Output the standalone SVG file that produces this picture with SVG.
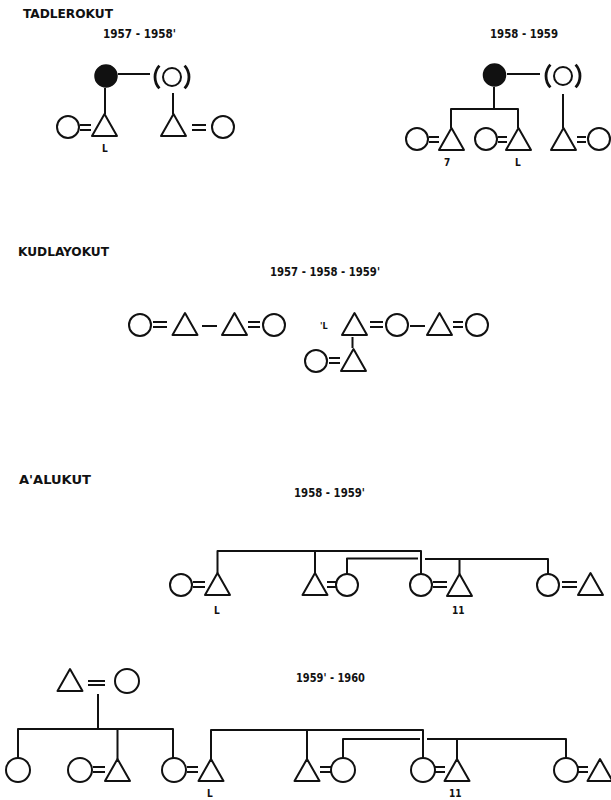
<svg xmlns="http://www.w3.org/2000/svg" xmlns:xlink="http://www.w3.org/1999/xlink" width="611" height="800" viewBox="0 0 611 800">
<style>
  .s{fill:none;stroke:#111;stroke-width:2;stroke-linejoin:round}
  .f{fill:#111;stroke:#111;stroke-width:1.5}
  .p{fill:none;stroke:#111;stroke-width:2.8}
  .t{font-family:"DejaVu Sans Condensed","DejaVu Sans","Liberation Sans",sans-serif;font-weight:bold;fill:#111}
  .h{font-size:12px}
  .y{font-size:11.5px}
  .l{font-size:10px}
</style>
<defs>
  <path id="tri" d="M0,0 L12.5,22 L-12.5,22 Z"/>
  <circle id="cir" r="11"/>
</defs>
<rect width="611" height="800" fill="#fff"/>

<g id="titles" class="t">
  <text class="h" x="23" y="18" textLength="90" lengthAdjust="spacingAndGlyphs">TADLEROKUT</text>
  <text class="y" x="103" y="38" textLength="73" lengthAdjust="spacingAndGlyphs">1957 - 1958'</text>
  <text class="y" x="490" y="38" textLength="68" lengthAdjust="spacingAndGlyphs">1958 - 1959</text>
  <text class="h" x="18" y="256" textLength="91" lengthAdjust="spacingAndGlyphs">KUDLAYOKUT</text>
  <text class="y" x="270" y="276" textLength="110" lengthAdjust="spacingAndGlyphs">1957 - 1958 - 1959'</text>
  <text class="h" x="19" y="484" textLength="72" lengthAdjust="spacingAndGlyphs">A'ALUKUT</text>
  <text class="y" x="294" y="497" textLength="71" lengthAdjust="spacingAndGlyphs">1958 - 1959'</text>
  <text class="y" x="296" y="682" textLength="69" lengthAdjust="spacingAndGlyphs">1959' - 1960</text>
</g>

<g id="connectors" class="s">
  <!-- Tadlerokut 1957-1958 -->
  <path d="M118,74 H150 M105,88 V114 M173,93 V114"/>
  <path d="M80,125 H91 M80,130 H91 M192,125 H206 M192,130 H206"/>
  <!-- Tadlerokut 1958-1959 -->
  <path d="M507,74 H540 M494,87 V109 M451,128 V109 H518 V128 M563,94 V128"/>
  <path d="M429,137 H439 M429,142 H439 M498,137 H507 M498,142 H507 M577,137 H586 M577,142 H586"/>
  <!-- Kudlayokut -->
  <path d="M153,322 H167 M153,327 H167 M202,326 H217 M248,322 H260 M248,327 H260"/>
  <path d="M370,322 H383 M370,327 H383 M410,326 H425 M453,322 H463 M453,327 H463"/>
  <path d="M352.5,337 V348 M329,358 H340 M329,363 H340"/>
  <!-- A'alukut 1958-1959 -->
  <path d="M217.5,573 V551 H421 V574 M315,551 V573 M347,574 V558.5 H418 M425,559 H548 V574 M459.5,559 V574"/>
  <path d="M193,582 H205 M193,587 H205 M327,582 H336 M327,587 H336 M433,582 H447 M433,587 H447 M562,582 H577 M562,587 H577"/>
  <!-- A'alukut 1959-1960 -->
  <path d="M88,681 H105 M88,685 H105 M98,694 V729 M18,758 V729 H173 V759 M117.5,729 V759"/>
  <path d="M211,759 V730 H423 V759 M307,730 V759 M343,759 V739 H420 M427,739 H566 V759 M457,739 V759"/>
  <path d="M93,767 H105 M93,772 H105 M187,767 H198 M187,772 H198 M320,767 H331 M320,772 H331 M435,767 H445 M435,772 H445 M578,767 H588 M578,772 H588"/>
</g>

<g id="labels" class="t l">
  <text x="102" y="152">L</text>
  <text x="444" y="166">7</text>
  <text x="515" y="166">L</text>
  <text x="320" y="329" font-size="9">'L</text>
  <text x="214" y="614">L</text>
  <text x="452" y="614">11</text>
  <text x="207" y="797">L</text>
  <text x="449" y="797">11</text>
</g>

<!-- Tadlerokut 1957-1958 -->
<g id="n1"><circle class="f" cx="106" cy="76" r="11"/></g>
<g id="n2" class="s"><circle cx="172" cy="77" r="9"/><path class="p" d="M159.4,65.6 A17,17 0 0 0 159.4,88.4 M184.6,65.6 A17,17 0 0 1 184.6,88.4"/></g>
<g id="n3"><use xlink:href="#tri" class="s" x="104.5" y="114"/></g>
<g id="n4"><use xlink:href="#cir" class="s" x="68" y="127"/></g>
<g id="n5"><use xlink:href="#tri" class="s" x="173.5" y="114"/></g>
<g id="n6"><use xlink:href="#cir" class="s" x="223" y="127"/></g>

<!-- Tadlerokut 1958-1959 -->
<g id="n7"><circle class="f" cx="494.5" cy="75" r="11"/></g>
<g id="n8" class="s"><circle cx="563" cy="76" r="9"/><path class="p" d="M550.4,64.6 A17,17 0 0 0 550.4,87.4 M575.6,64.6 A17,17 0 0 1 575.6,87.4"/></g>
<g id="n9"><use xlink:href="#cir" class="s" x="417" y="139"/></g>
<g id="n10"><use xlink:href="#tri" class="s" x="451.5" y="128"/></g>
<g id="n11"><use xlink:href="#cir" class="s" x="486" y="139"/></g>
<g id="n12"><use xlink:href="#tri" class="s" x="518.5" y="128"/></g>
<g id="n13"><use xlink:href="#tri" class="s" x="563.5" y="128"/></g>
<g id="n14"><use xlink:href="#cir" class="s" x="599" y="139"/></g>

<!-- Kudlayokut -->
<g id="n15"><use xlink:href="#cir" class="s" x="140" y="325"/></g>
<g id="n16"><use xlink:href="#tri" class="s" x="185" y="313"/></g>
<g id="n17"><use xlink:href="#tri" class="s" x="234.5" y="313"/></g>
<g id="n18"><use xlink:href="#cir" class="s" x="274" y="325"/></g>
<g id="n19"><use xlink:href="#tri" class="s" x="354.5" y="313"/></g>
<g id="n20"><use xlink:href="#cir" class="s" x="397" y="325"/></g>
<g id="n21"><use xlink:href="#tri" class="s" x="439.5" y="313"/></g>
<g id="n22"><use xlink:href="#cir" class="s" x="477" y="325"/></g>
<g id="n23"><use xlink:href="#cir" class="s" x="316" y="361"/></g>
<g id="n24"><use xlink:href="#tri" class="s" x="353.5" y="349"/></g>

<!-- A'alukut 1958-1959 -->
<g id="n25"><use xlink:href="#cir" class="s" x="181" y="585"/></g>
<g id="n26"><use xlink:href="#tri" class="s" x="217.5" y="573"/></g>
<g id="n27"><use xlink:href="#tri" class="s" x="315" y="573"/></g>
<g id="n28"><use xlink:href="#cir" class="s" x="347" y="585"/></g>
<g id="n29"><use xlink:href="#cir" class="s" x="421" y="585"/></g>
<g id="n30"><use xlink:href="#tri" class="s" x="459.5" y="574"/></g>
<g id="n31"><use xlink:href="#cir" class="s" x="548" y="585"/></g>
<g id="n32"><use xlink:href="#tri" class="s" x="590.5" y="573"/></g>

<!-- A'alukut 1959-1960 -->
<g id="n33"><use xlink:href="#tri" class="s" x="70" y="669"/></g>
<g id="n34"><circle class="s" cx="127" cy="681" r="12"/></g>
<g id="n35"><circle class="s" cx="18" cy="770" r="12"/></g>
<g id="n36"><circle class="s" cx="80" cy="770" r="12"/></g>
<g id="n37"><use xlink:href="#tri" class="s" x="117.5" y="759"/></g>
<g id="n38"><circle class="s" cx="174" cy="770" r="12"/></g>
<g id="n39"><use xlink:href="#tri" class="s" x="211" y="759"/></g>
<g id="n40"><use xlink:href="#tri" class="s" x="307" y="759"/></g>
<g id="n41"><circle class="s" cx="343" cy="770" r="12"/></g>
<g id="n42"><circle class="s" cx="423" cy="770" r="12"/></g>
<g id="n43"><use xlink:href="#tri" class="s" x="457" y="759"/></g>
<g id="n44"><circle class="s" cx="566" cy="770" r="12"/></g>
<g id="n45"><use xlink:href="#tri" class="s" x="600" y="759"/></g>
</svg>
